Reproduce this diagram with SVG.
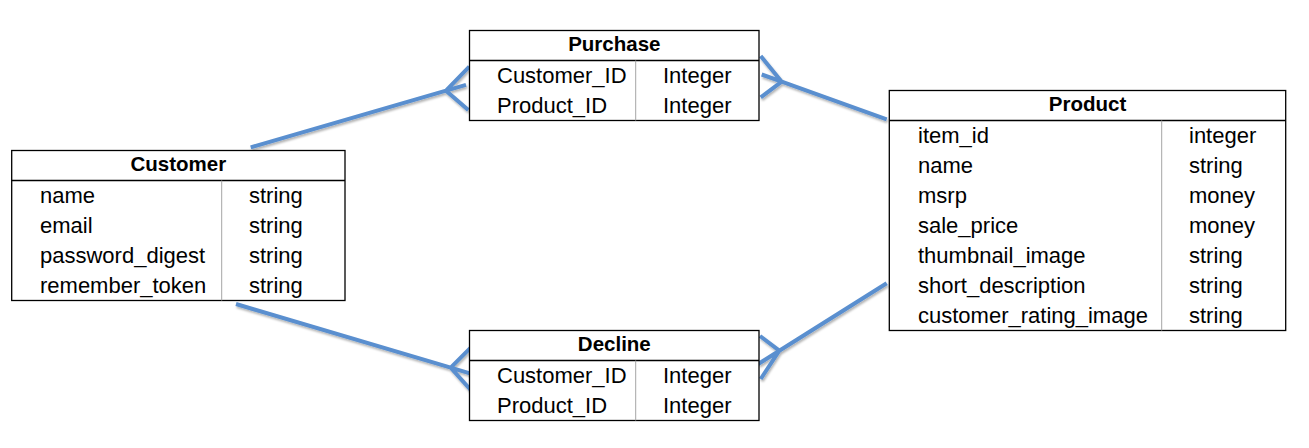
<svg xmlns="http://www.w3.org/2000/svg" width="1309" height="448" viewBox="0 0 1309 448">
<style>
.box{fill:#fff;stroke:#000;stroke-width:1.3}
.hl{stroke:#000;stroke-width:1.3}
.div{stroke:#a6a6a6;stroke-width:1}
.t{font-family:"Liberation Sans",Arial,sans-serif;font-size:20.5px;font-weight:bold;fill:#000;text-anchor:middle}
.f{font-family:"Liberation Sans",Arial,sans-serif;font-size:22px;fill:#000}
.c{fill:none;stroke:#5a8fcf;stroke-width:4;stroke-linecap:butt;stroke-linejoin:round}
</style>
<defs>
<filter id="sh" x="-10%" y="-20%" width="120%" height="140%">
<feDropShadow dx="1" dy="2" stdDeviation="1" flood-color="#000" flood-opacity="0.3"/>
</filter>
</defs>
<rect width="1309" height="448" fill="#fff"/>
<g id="connectors" filter="url(#sh)">
<path class="c" d="M250.7,147.3 L446,90.7 M469.3,66.7 L446,90.7 L468.3,110 M446,90.7 L466,84.8"/>
<path class="c" d="M886.7,119.3 L781.7,81.7 M760.7,56 L781.7,81.7 L760.7,97.3 M781.7,81.7 L761.7,74.5"/>
<path class="c" d="M236,304 L450.7,367.7 M470.7,347.7 L450.7,367.7 L470.7,390 M450.7,367.7 L470.7,373.6"/>
<path class="c" d="M886.7,283.3 L779.3,350.7 M760,336 L779.3,350.7 L760.7,379 M779.3,350.7 L758.3,364"/>
</g>
<g id="customer">
<rect class="box" x="11.7" y="150.5" width="333.3" height="150"/>
<line class="hl" x1="11.7" y1="180.5" x2="345" y2="180.5"/>
<line class="div" x1="221.7" y1="180.5" x2="221.7" y2="300.5"/>
<text class="t" x="178.3" y="171">Customer</text>
<text class="f" x="40" y="202.5">name</text><text class="f" x="249" y="202.5">string</text>
<text class="f" x="40" y="232.5">email</text><text class="f" x="249" y="232.5">string</text>
<text class="f" x="40" y="262.5">password_digest</text><text class="f" x="249" y="262.5">string</text>
<text class="f" x="40" y="292.5">remember_token</text><text class="f" x="249" y="292.5">string</text>
</g>
<g id="purchase">
<rect class="box" x="469.5" y="30.5" width="289.5" height="90"/>
<line class="hl" x1="469.5" y1="60.5" x2="759" y2="60.5"/>
<line class="div" x1="635.7" y1="60.5" x2="635.7" y2="120.5"/>
<text class="t" x="614.3" y="51">Purchase</text>
<text class="f" x="497" y="82.5">Customer_ID</text><text class="f" x="663" y="82.5">Integer</text>
<text class="f" x="497" y="112.5">Product_ID</text><text class="f" x="663" y="112.5">Integer</text>
</g>
<g id="decline">
<rect class="box" x="469.5" y="330.5" width="289.5" height="90"/>
<line class="hl" x1="469.5" y1="360.5" x2="759" y2="360.5"/>
<line class="div" x1="635.7" y1="360.5" x2="635.7" y2="420.5"/>
<text class="t" x="614.3" y="351">Decline</text>
<text class="f" x="497" y="382.5">Customer_ID</text><text class="f" x="663" y="382.5">Integer</text>
<text class="f" x="497" y="412.5">Product_ID</text><text class="f" x="663" y="412.5">Integer</text>
</g>
<g id="product">
<rect class="box" x="889.3" y="90.5" width="396.4" height="240"/>
<line class="hl" x1="889.3" y1="120.5" x2="1285.7" y2="120.5"/>
<line class="div" x1="1161.7" y1="120.5" x2="1161.7" y2="330.5"/>
<text class="t" x="1087.5" y="111">Product</text>
<text class="f" x="918" y="142.5">item_id</text><text class="f" x="1189" y="142.5">integer</text>
<text class="f" x="918" y="172.5">name</text><text class="f" x="1189" y="172.5">string</text>
<text class="f" x="918" y="202.5">msrp</text><text class="f" x="1189" y="202.5">money</text>
<text class="f" x="918" y="232.5">sale_price</text><text class="f" x="1189" y="232.5">money</text>
<text class="f" x="918" y="262.5">thumbnail_image</text><text class="f" x="1189" y="262.5">string</text>
<text class="f" x="918" y="292.5">short_description</text><text class="f" x="1189" y="292.5">string</text>
<text class="f" x="918" y="322.5">customer_rating_image</text><text class="f" x="1189" y="322.5">string</text>
</g>
</svg>
